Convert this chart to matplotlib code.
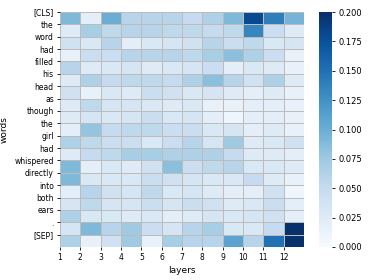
import numpy as np
import matplotlib
matplotlib.use('Agg')
import matplotlib.pyplot as plt

words = ["[CLS]", "the", "word", "had", "filled", "his", "head", "as", "though",
         "the", "girl", "had", "whispered", "directly", "into", "both", "ears", ".", "[SEP]"]
layers = [str(i) for i in range(1, 13)]

# attention per word (rows) and layer (columns)
attn = np.array([
    [0.090, 0.020, 0.100, 0.060, 0.060, 0.060, 0.050, 0.065, 0.090, 0.180, 0.140, 0.095],  # [CLS]
    [0.025, 0.070, 0.055, 0.060, 0.060, 0.055, 0.055, 0.050, 0.055, 0.135, 0.045, 0.025],  # the
    [0.040, 0.030, 0.060, 0.020, 0.030, 0.035, 0.040, 0.060, 0.045, 0.055, 0.030, 0.035],  # word
    [0.015, 0.045, 0.045, 0.060, 0.060, 0.060, 0.055, 0.070, 0.085, 0.065, 0.045, 0.015],  # had
    [0.060, 0.025, 0.030, 0.035, 0.025, 0.030, 0.035, 0.045, 0.020, 0.030, 0.025, 0.015],  # filled
    [0.025, 0.065, 0.050, 0.055, 0.055, 0.050, 0.065, 0.085, 0.060, 0.040, 0.065, 0.025],  # his
    [0.040, 0.015, 0.030, 0.025, 0.045, 0.040, 0.030, 0.035, 0.025, 0.020, 0.025, 0.015],  # head
    [0.025, 0.055, 0.035, 0.035, 0.030, 0.025, 0.030, 0.015, 0.015, 0.020, 0.020, 0.015],  # as
    [0.025, 0.035, 0.030, 0.035, 0.045, 0.030, 0.035, 0.020, 0.010, 0.020, 0.020, 0.015],  # though
    [0.020, 0.080, 0.050, 0.055, 0.055, 0.045, 0.045, 0.030, 0.035, 0.020, 0.025, 0.015],  # the
    [0.065, 0.055, 0.045, 0.045, 0.030, 0.045, 0.060, 0.035, 0.075, 0.025, 0.030, 0.040],  # girl
    [0.025, 0.050, 0.055, 0.070, 0.070, 0.065, 0.065, 0.065, 0.050, 0.025, 0.025, 0.020],  # had
    [0.090, 0.020, 0.030, 0.025, 0.040, 0.085, 0.045, 0.055, 0.060, 0.030, 0.030, 0.025],  # whispered
    [0.090, 0.030, 0.030, 0.030, 0.045, 0.040, 0.035, 0.030, 0.030, 0.050, 0.025, 0.015],  # directly
    [0.020, 0.060, 0.040, 0.035, 0.055, 0.030, 0.035, 0.025, 0.020, 0.020, 0.040, 0.010],  # into
    [0.035, 0.055, 0.035, 0.035, 0.045, 0.035, 0.045, 0.040, 0.025, 0.030, 0.045, 0.020],  # both
    [0.065, 0.030, 0.030, 0.025, 0.030, 0.020, 0.025, 0.035, 0.030, 0.035, 0.040, 0.020],  # ears
    [0.035, 0.090, 0.060, 0.075, 0.045, 0.035, 0.060, 0.070, 0.030, 0.030, 0.050, 0.200],  # .
    [0.065, 0.015, 0.040, 0.075, 0.015, 0.070, 0.060, 0.060, 0.110, 0.060, 0.150, 0.200],  # [SEP]
])

plt.rcParams['font.family'] = 'DejaVu Sans'
plt.rcParams['font.size'] = 5.5

fig = plt.figure(figsize=(3.74, 2.8), dpi=100)
ax = fig.add_axes([60/374, 33/280, 244/374, 235/280])
cax = fig.add_axes([319/374, 33/280, 13/374, 235/280])

mesh = ax.pcolormesh(attn, cmap='Blues', vmin=0, vmax=0.2,
                     edgecolors='#bcbcbc', linewidth=0.55)
ax.set_xlim(0, len(layers))
ax.set_ylim(len(words), 0)
# ticks sit on the cell edges, like the original
ax.set_xticks(range(len(layers)))
ax.set_xticklabels(layers)
ax.set_yticks(range(len(words)))
ax.set_yticklabels(words)
ax.tick_params(length=2.5, width=0.6, pad=2)
for s in ax.spines.values():
    s.set_visible(False)
ax.set_xlabel('layers', fontsize=6.5, labelpad=3)
ax.set_ylabel('words', fontsize=6.5, labelpad=4)

cb = fig.colorbar(mesh, cax=cax, ticks=np.arange(0, 0.2001, 0.025), format='%.3f')
cb.outline.set_linewidth(0)
cb.ax.tick_params(length=2.5, width=0.6, pad=2, labelsize=6)

fig.savefig('out.png', dpi=100)
